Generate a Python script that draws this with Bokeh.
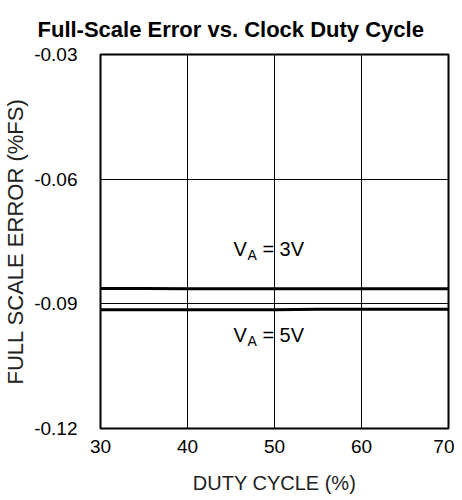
from bokeh.plotting import figure
from bokeh.models import FixedTicker, Label, ColumnDataSource, Range1d
from bokeh.embed import file_html
from bokeh.resources import INLINE

# Data
duty_cycle = [30, 35, 40, 45, 50, 55, 60, 65, 70]
fs_err_3v = [-0.0863, -0.0863, -0.0864, -0.0864, -0.0864, -0.0864, -0.0864, -0.0864, -0.0864]
fs_err_5v = [-0.0914, -0.0914, -0.0914, -0.0914, -0.0914, -0.0913, -0.0913, -0.0913, -0.0913]
x_ticks = [30, 40, 50, 60, 70]
y_ticks = [-0.12, -0.09, -0.06, -0.03]
y_tick_labels = {-0.12: "-0.12", -0.09: "-0.09", -0.06: "-0.06", -0.03: "-0.03"}

FONT = "Liberation Sans"

p = figure(frame_width=348, frame_height=374,
           x_range=Range1d(30, 70), y_range=Range1d(-0.12, -0.03),
           output_backend="svg", toolbar_location=None,
           min_border_left=92, min_border_right=6, min_border_top=54, min_border_bottom=62)
p.background_fill_color = "white"
p.border_fill_color = "white"
p.outline_line_color = "black"
p.outline_line_width = 2

for ax in (p.xaxis, p.yaxis):
    ax.axis_line_color = None
    ax.major_tick_line_color = None
    ax.minor_tick_line_color = None
    ax.major_label_text_font = FONT
    ax.major_label_text_font_size = "19px"
    ax.major_label_text_color = "black"
    ax.axis_label_text_font = FONT
    ax.axis_label_text_font_style = "normal"
    ax.axis_label_text_color = "#222222"

p.xaxis.axis_label_text_font_size = "20px"
p.yaxis.axis_label_text_font_size = "22px"
p.xaxis.ticker = FixedTicker(ticks=x_ticks)
p.yaxis.ticker = FixedTicker(ticks=y_ticks)
p.yaxis.major_label_overrides = y_tick_labels
p.xaxis.major_label_standoff = 5
p.yaxis.major_label_standoff = 17
p.xaxis.axis_label = "DUTY CYCLE (%)"
p.yaxis.axis_label = "FULL SCALE ERROR (%FS)"
p.xaxis.axis_label_standoff = 16
p.yaxis.axis_label_standoff = 3

p.xgrid.grid_line_color = "black"
p.ygrid.grid_line_color = "black"
p.xgrid.grid_line_width = 1
p.ygrid.grid_line_width = 1
p.xgrid.grid_line_alpha = 1
p.ygrid.grid_line_alpha = 1

src = ColumnDataSource(dict(x=duty_cycle, v3=fs_err_3v, v5=fs_err_5v))
p.line("x", "v3", source=src, line_color="black", line_width=3)
p.line("x", "v5", source=src, line_color="black", line_width=3)

# Curve labels V_A = 3V / V_A = 5V
def curve_label(xd, yd, rest):
    common = dict(x=xd, y=yd, text_font=FONT, text_baseline="alphabetic", text_color="black")
    p.add_layout(Label(text="V", text_font_size="20px", **common))
    p.add_layout(Label(text="A", x_offset=14, y_offset=-6, text_font_size="14px", **common))
    p.add_layout(Label(text="=", x_offset=29, text_font_size="20px", **common))
    p.add_layout(Label(text=rest, x_offset=46, text_font_size="20px", **common))

curve_label(45.3, -0.0767, "3V")
curve_label(45.3, -0.0975, "5V")

p.title.text = "Full-Scale Error vs. Clock Duty Cycle"
p.title.text_font = FONT
p.title.text_font_size = "22px"
p.title.text_font_style = "bold"
p.title.align = "left"
p.title.offset = -63
p.title.standoff = 26
p.title.text_color = "black"

open("out.html", "w").write(file_html(p, INLINE))
